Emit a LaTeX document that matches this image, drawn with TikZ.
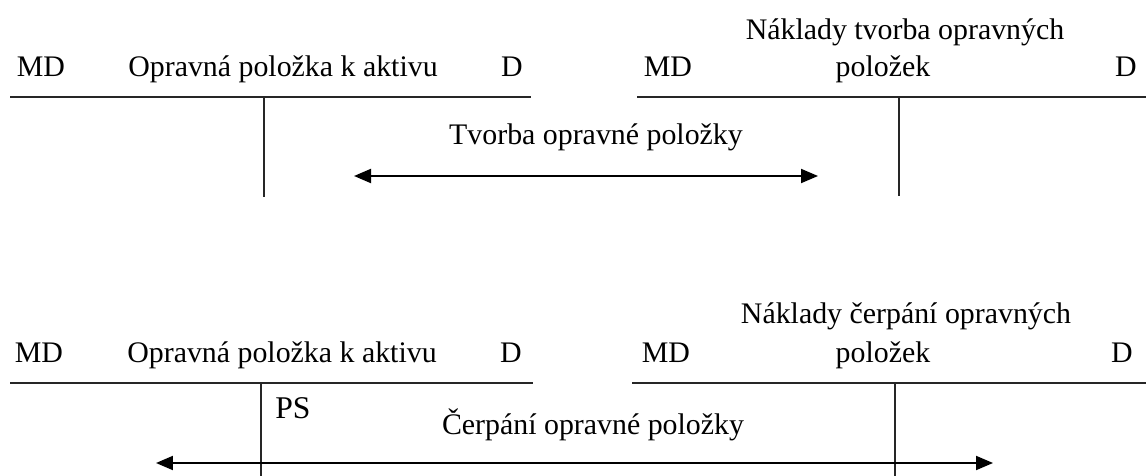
\documentclass[tikz,border=0pt]{standalone}
\usepackage{fontspec}
\setmainfont{Liberation Serif}
\usetikzlibrary{arrows.meta}
\begin{document}
\begin{tikzpicture}[x=0.02cm,y=-0.02cm,
  lbl/.style={inner sep=0pt,anchor=base,font=\fontsize{17}{20}\selectfont},
  rule/.style={line width=1.1pt,black!85},
  flow/.style={line width=1.1pt,{Triangle[length=0.34cm,width=0.28cm]}-{Triangle[length=0.34cm,width=0.28cm]}}]
\useasboundingbox (0,0) rectangle (1146,476);
% ---------- top ----------
\node[lbl] (tmd1) at (41,77) {MD};
\node[lbl] (tname1) at (283,77) {Opravná položka k aktivu};
\node[lbl] (td1) at (512,77) {D};
\node[lbl] (tmd2) at (668,77) {MD};
\node[lbl] (tname2a) at (905,40) {Náklady tvorba opravných};
\node[lbl] (tname2b) at (883,77) {položek};
\node[lbl] (td2) at (1126,77) {D};
\node[lbl] (tflow) at (596,145) {Tvorba opravné položky};
\coordinate (tl1) at (10,97);
\coordinate (tr1) at (531,97);
\coordinate (tv1a) at (264,97);
\coordinate (tv1b) at (264,197);
\coordinate (tl2) at (637,97);
\coordinate (tr2) at (1146,97);
\coordinate (tv2a) at (899,97);
\coordinate (tv2b) at (899,196);
\coordinate (ta1) at (354,176);
\coordinate (ta2) at (818,176);
\draw[rule] (tl1) -- (tr1);
\draw[rule] (tv1a) -- (tv1b);
\draw[rule] (tl2) -- (tr2);
\draw[rule] (tv2a) -- (tv2b);
\draw[flow] (ta1) -- (ta2);
% ---------- bottom ----------
\node[lbl] (bmd1) at (39,362) {MD};
\node[lbl] (bname1) at (282,362) {Opravná položka k aktivu};
\node[lbl] (bd1) at (511,362) {D};
\node[lbl] (bmd2) at (666,362) {MD};
\node[lbl] (bname2a) at (906,323) {Náklady čerpání opravných};
\node[lbl] (bname2b) at (883,362) {položek};
\node[lbl] (bd2) at (1122,362) {D};
\node[lbl,font=\fontsize{18}{21}\selectfont] (bps) at (293,418) {PS};
\node[lbl] (bflow) at (593,434) {Čerpání opravné položky};
\coordinate (bl1) at (10,383);
\coordinate (br1) at (533,383);
\coordinate (bv1a) at (261,383);
\coordinate (bv1b) at (261,476);
\coordinate (bl2) at (632,383);
\coordinate (br2) at (1146,383);
\coordinate (bv2a) at (895,383);
\coordinate (bv2b) at (895,476);
\coordinate (ba1) at (156,463);
\coordinate (ba2) at (993,463);
\draw[rule] (bl1) -- (br1);
\draw[rule] (bv1a) -- (bv1b);
\draw[rule] (bl2) -- (br2);
\draw[rule] (bv2a) -- (bv2b);
\draw[flow] (ba1) -- (ba2);
\end{tikzpicture}
\end{document}
